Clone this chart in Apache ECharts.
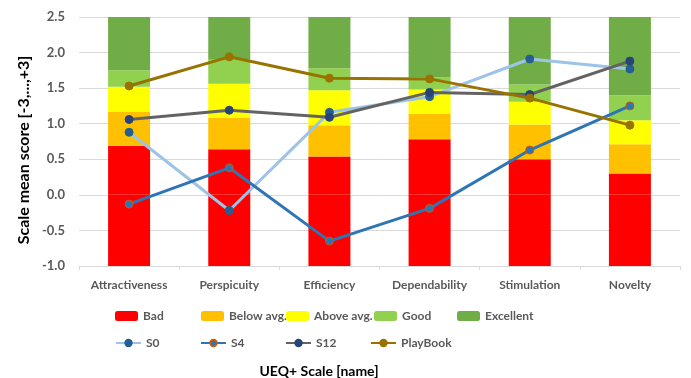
<!DOCTYPE html>
<html><head><meta charset="utf-8">
<script src="https://cdn.jsdelivr.net/npm/echarts@6/dist/echarts.min.js"></script>
<style>html,body{margin:0;padding:0;background:#fff}#c{width:691px;height:378px}</style>
</head><body><div id="c"></div>
<script>
const categories = ['Attractiveness','Perspicuity','Efficiency','Dependability','Stimulation','Novelty'];
// benchmark upper bounds of each band
const axisMin = -1.0;
const badTop = [0.69, 0.64, 0.54, 0.78, 0.50, 0.30];
const belowTop = [1.17, 1.08, 0.98, 1.14, 0.99, 0.71];
const aboveTop = [1.52, 1.56, 1.47, 1.48, 1.31, 1.05];
const goodTop = [1.75, 1.90, 1.78, 1.65, 1.55, 1.40];
const excellentTop = [2.5, 2.5, 2.5, 2.5, 2.5, 2.5];
// measured scale means
const s0 = [0.88, -0.22, 1.16, 1.38, 1.91, 1.77];
const s4 = [-0.13, 0.38, -0.65, -0.19, 0.63, 1.25];
const s12 = [1.06, 1.19, 1.09, 1.44, 1.41, 1.88];
const playBook = [1.53, 1.94, 1.64, 1.63, 1.36, 0.98];
const yTicks = {min: -1.0, max: 2.5, interval: 0.5};

const diff = (a, b) => a.map((v, i) => +(v - b[i]).toFixed(4));
const FONT = 'Lato';
const GREY = '#595959';
const chart = echarts.init(document.getElementById('c'), null, {renderer: 'canvas'});

function bar(name, data, color) {
  return {name, type: 'bar', stack: 'b', data, barWidth: 42, xAxisIndex: 0,
    itemStyle: {color}, emphasis: {disabled: true}, animation: false};
}
function line(name, data, color, markerColor, markerBorder, width) {
  return {name, type: 'line', data, xAxisIndex: 0, symbol: 'circle', symbolSize: 8,
    lineStyle: {color, width}, itemStyle: {color: markerColor, borderColor: markerBorder, borderWidth: 1},
    emphasis: {disabled: true}, animation: false, z: 5};
}
const legendBase = {textStyle: {fontFamily: FONT, fontSize: 12, fontWeight: 'bold', color: GREY}, itemGap: 2, selectedMode: true};
function lg(name, left, top, w, h) {
  return Object.assign({}, legendBase, {data: [name], left, top, itemWidth: w, itemHeight: h});
}

chart.setOption({
  backgroundColor: '#fff',
  animation: false,
  grid: {left: 79, right: 11, top: 17, bottom: 112, containLabel: false},
  xAxis: [
    {type: 'category', data: categories, position: 'bottom',
      axisLine: {show: false}, axisTick: {show: false},
      axisLabel: {fontFamily: FONT, fontSize: 12, fontWeight: 'bold', color: GREY, margin: 13, interval: 0}},
    {type: 'category', data: categories, position: 'bottom',
      axisLine: {show: true, onZero: true, lineStyle: {color: '#D9D9D9'}},
      axisTick: {show: true, length: 4, lineStyle: {color: '#D9D9D9'}},
      axisLabel: {show: false}}
  ],
  yAxis: {type: 'value', min: yTicks.min, max: yTicks.max, interval: yTicks.interval,
    axisLine: {show: false}, axisTick: {show: false},
    splitLine: {lineStyle: {color: '#D9D9D9', width: 1}},
    axisLabel: {fontFamily: FONT, fontSize: 13, fontWeight: 'bold', color: GREY, margin: 14,
      formatter: v => v.toFixed(1)}},
  legend: [
    lg('Bad', 110, 305, 23, 10),
    lg('Below avg.', 196, 305, 23, 10),
    lg('Above avg.', 281, 305, 23, 10),
    lg('Good', 369, 305, 23, 10),
    lg('Excellent', 452, 305, 23, 10),
    lg('S0', 110, 332, 25, 8),
    lg('S4', 195, 332, 25, 8),
    lg('S12', 280, 332, 25, 8),
    lg('PlayBook', 365, 332, 25, 8)
  ],
  graphic: [
    {type: 'text', x: 24, y: 150, rotation: Math.PI / 2,
      style: {text: 'Scale mean score [-3,...,+3]', fontFamily: FONT, fontSize: 16, fontWeight: 'bold', fill: '#000',
        align: 'center', verticalAlign: 'middle'}},
    {type: 'text', x: 319, y: 371,
      style: {text: 'UEQ+ Scale [name]', fontFamily: FONT, fontSize: 14, fontWeight: 'bold', fill: '#000',
        align: 'center', verticalAlign: 'middle'}}
  ],
  series: [
    bar('Bad', categories.map(() => axisMin), '#FF0000'),
    bar('Bad', badTop, '#FF0000'),
    bar('Below avg.', diff(belowTop, badTop), '#FFC000'),
    bar('Above avg.', diff(aboveTop, belowTop), '#FFFF00'),
    bar('Good', diff(goodTop, aboveTop), '#92D050'),
    bar('Excellent', diff(excellentTop, goodTop), '#70AD47'),
    line('S0', s0, '#9DC3E6', '#255E91', '#255E91', 3),
    line('S4', s4, '#2E75B6', '#2E75B6', '#C55A11', 3),
    line('S12', s12, '#636363', '#264478', '#264478', 3),
    line('PlayBook', playBook, '#997300', '#997300', '#997300', 3)
  ]
});
</script></body></html>
